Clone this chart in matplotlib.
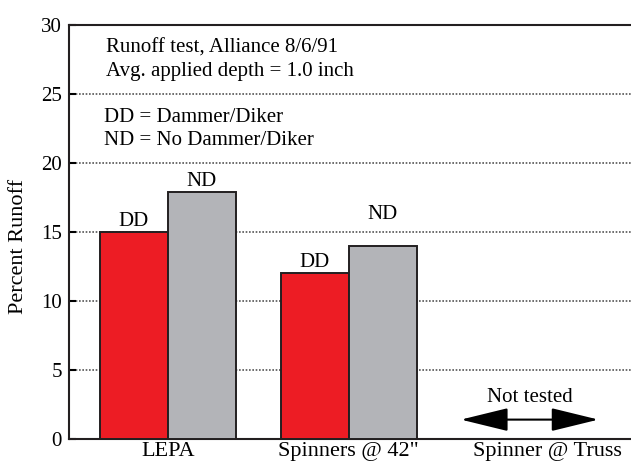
import numpy as np
import matplotlib.pyplot as plt
import matplotlib.transforms as mtransforms

plt.rcParams['font.family'] = ['Liberation Serif', 'DejaVu Serif']

categories = ['LEPA', 'Spinners @ 42"', 'Spinner @ Truss']
dd_vals = [15.0, 12.0]
nd_vals = [17.9, 14.0]
yticks = [0, 5, 10, 15, 20, 25, 30]

fs = 15

fig = plt.figure(figsize=(6.31, 4.63), dpi=100)
ax = fig.add_axes([0.109, 0.052, 0.891, 0.894])

x = np.arange(len(dd_vals))
w = 0.376
ax.bar(x - w / 2, dd_vals, w, color='#ED1C24', edgecolor='#231F20', linewidth=1.4, zorder=3)
ax.bar(x + w / 2, nd_vals, w, color='#B3B4B8', edgecolor='#231F20', linewidth=1.4, zorder=3)
# label offsets above bars (second ND label sits above the 15 gridline)
nd_off = [0.1, 1.6]
for i in range(len(dd_vals)):
    ax.text(x[i] - w / 2, dd_vals[i] + 0.1, 'DD', ha='center', va='bottom', fontsize=fs)
    ax.text(x[i] + w / 2, nd_vals[i] + nd_off[i], 'ND', ha='center', va='bottom', fontsize=fs)

ax.set_xlim(-0.547, 2.56)
ax.set_ylim(0, 30)
ax.set_yticks(yticks)
ax.set_xticks(range(len(categories)))
ax.set_xticklabels(categories, fontsize=16)
ax.tick_params(axis='x', length=0, pad=2.5)
ax.tick_params(axis='y', direction='in', length=5, width=1.5, labelsize=fs, pad=5)
ax.set_ylabel('Percent Runoff', fontsize=16)
ax.yaxis.set_label_coords(-0.072, 0.466)

# last label sits a bit right of its slot in the original
lbl = ax.get_xticklabels()[2]
lbl.set_transform(lbl.get_transform() + mtransforms.ScaledTranslation(0.18, 0, fig.dpi_scale_trans))

ax.yaxis.grid(True, linestyle=(0, (1, 1)), color='#555555', linewidth=1.2, zorder=0)
for s in ['left', 'bottom', 'top']:
    ax.spines[s].set_color('#231F20')
    ax.spines[s].set_linewidth(1.5)
ax.spines['right'].set_visible(False)

ax.text(-0.34, 28.3, 'Runoff test, Alliance 8/6/91', fontsize=fs, va='center')
ax.text(-0.34, 26.6, 'Avg. applied depth = 1.0 inch', fontsize=fs, va='center')
ax.text(-0.355, 23.3, 'DD = Dammer/Diker', fontsize=fs, va='center')
ax.text(-0.355, 21.6, 'ND = No Dammer/Diker', fontsize=fs, va='center')

ax.text(2.0, 3.0, 'Not tested', ha='center', va='center', fontsize=fs)
ax.annotate('', xy=(1.62, 1.4), xytext=(2.38, 1.4),
            arrowprops=dict(arrowstyle='<|-|>,head_length=1.35,head_width=0.33', color='black', lw=1.5,
                            mutation_scale=22, shrinkA=0, shrinkB=0))

fig.savefig('out.png', dpi=100)
